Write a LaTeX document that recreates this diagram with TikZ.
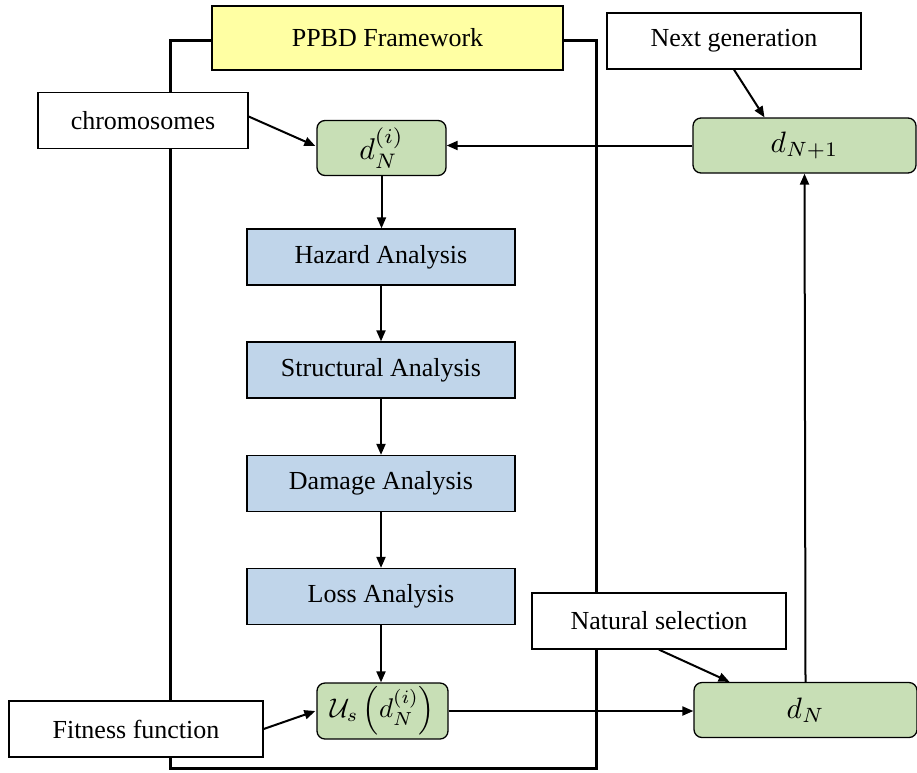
\documentclass[tikz,border=0pt]{standalone}
\usepackage{fontspec}
\setmainfont{Liberation Serif}
\usetikzlibrary{arrows.meta,calc}

\definecolor{frameyellow}{HTML}{FFFFA3}
\definecolor{gaGreen}{HTML}{C8DFB6}
\definecolor{stageBlue}{HTML}{C0D5EA}

% enlarged formula for the green state boxes
\newcommand{\bigmath}[2][2.95]{\scalebox{#1}{$#2$}}

\tikzset{
  base/.style={draw=black, line width=1.3pt, minimum width=#1, inner sep=0pt,
               font=\fontsize{26}{30}\selectfont},
  plainbox/.style={base=#1, fill=white, minimum height=56pt},
  titlebox/.style={base=#1, fill=frameyellow, minimum height=64pt},
  stagebox/.style={base=#1, fill=stageBlue, minimum height=56pt},
  gabox/.style={base=#1, fill=gaGreen, minimum height=55pt, rounded corners=8pt,
                font=\normalsize},
  link/.style={line width=2pt, -{Triangle[length=11pt,width=9pt]}},
  frameline/.style={line width=3pt}
}

\begin{document}
\begin{tikzpicture}[x=1pt, y=-1pt]
\useasboundingbox (0,0) rectangle (917,772);

% outer frame of the PPBD loop (drawn first, boxes sit on top)
\coordinate (fTL) at (170,40);
\coordinate (fBR) at (596,768);
\draw[frameline] (212,40) -- (fTL) -- (fTL |- fBR) -- (fBR) -- (fBR |- fTL) -- (563,40);

% title
\node[titlebox=351pt] (ppbd) at (387.5,38) {PPBD Framework};

% inputs
\node[plainbox=210pt] (chrom) at (143,120.5) {chromosomes};
\node[plainbox=254pt] (nextgen) at (734,41) {Next generation};
\node[plainbox=254pt] (natsel) at (659,621) {Natural selection};
\node[plainbox=254pt] (fitness) at (136,729) {Fitness function};

% genetic algorithm states
\node[gabox=129pt] (dNi) at (381.5,148) {\bigmath[3.0]{d_N^{(i)}}};
\node[gabox=223pt] (dN1) at (804.5,145.5) {\bigmath{d_{N+1}}};
\node[gabox=131pt, minimum height=56pt] (Us) at (382.5,711) {\bigmath[2.7]{\mathcal{U}_s\left(d_N^{(i)}\right)}};
\node[gabox=223pt] (dN) at (805.5,710) {\bigmath{d_N}};

% PBEE analysis chain
\node[stagebox=268pt] (hazard) at (381,257) {Hazard Analysis};
\node[stagebox=268pt] (struct) at (381,370) {Structural Analysis};
\node[stagebox=268pt] (damage) at (381,483.5) {Damage Analysis};
\node[stagebox=268pt] (loss) at (381,596.5) {Loss Analysis};

% connectors
\draw[link] ($(chrom.east)+(0,-4)$) -- ($(dNi.west)+(-1,-2)$);
\draw[link] (dN1.west) -- (dN1.west -| dNi.east);
\draw[link] (nextgen.south) -- ($(dN1.north)+(-40,0)$);
\draw[link] (dNi.south) -- (dNi.south |- hazard.north);
\draw[link] (hazard.south) -- (struct.north);
\draw[link] (struct.south) -- (damage.north);
\draw[link] (damage.south) -- (loss.north);
\draw[link] (loss.south) -- (loss.south |- Us.north);
\draw[link] (fitness.east) -- ($(Us.west)+(-1,0)$);
\draw[link] (natsel.south) -- ($(dN.north)+(-76,0)$);
\draw[link] (Us.east) -- (Us.east -| dN.west);
\draw[link] (dN.north) -- (dN1.south);
\end{tikzpicture}
\end{document}
